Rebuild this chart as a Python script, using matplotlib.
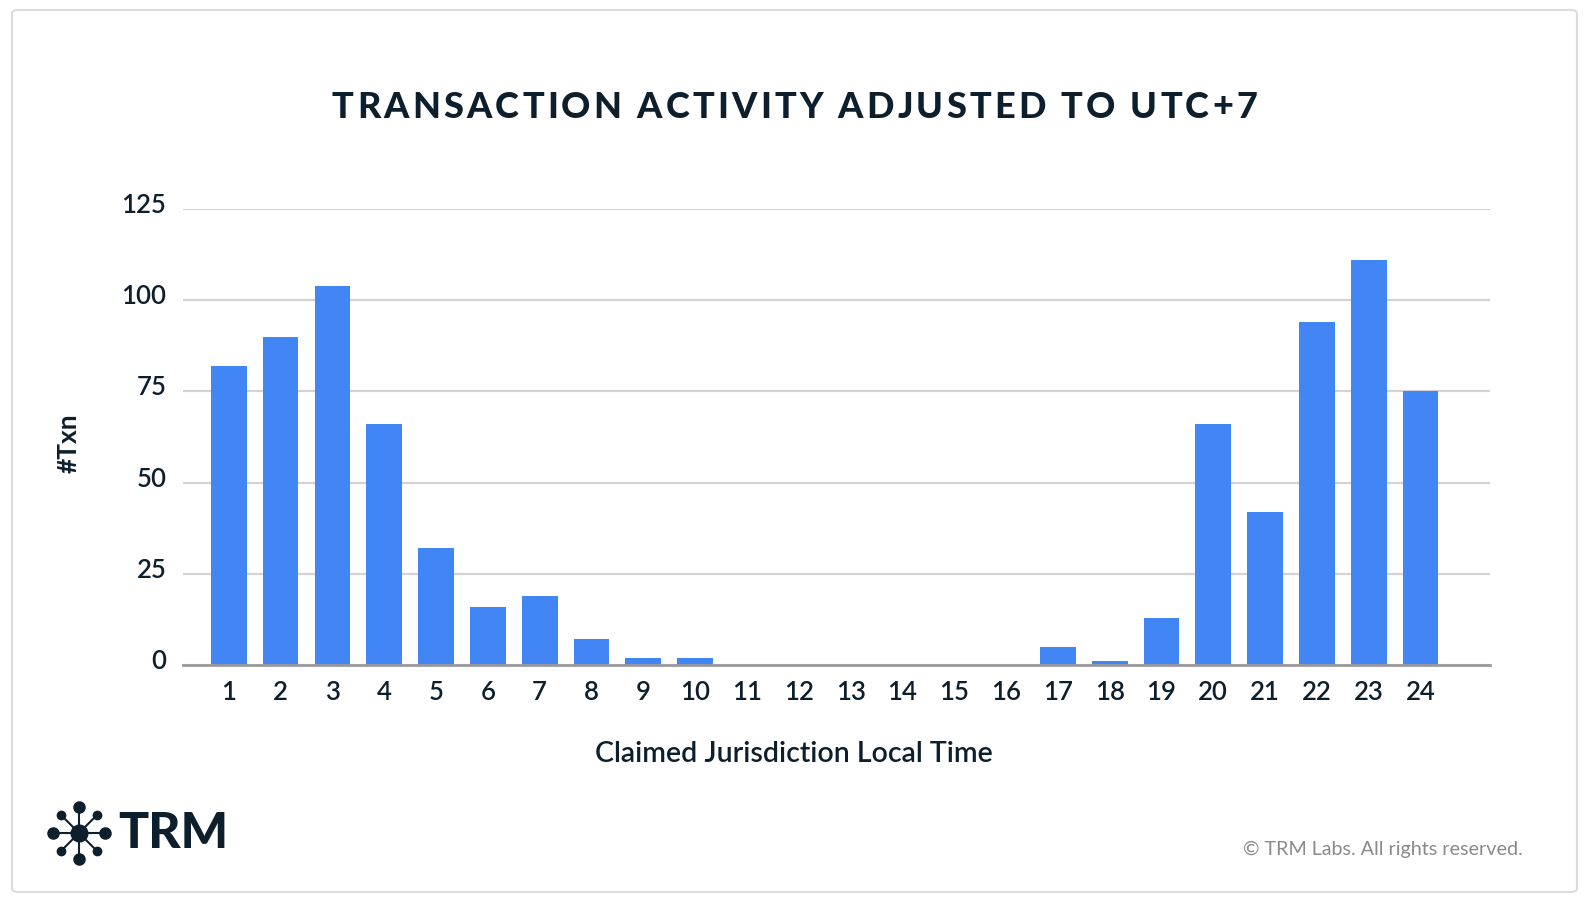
import numpy as np
import matplotlib
matplotlib.use("Agg")
import matplotlib.pyplot as plt
import matplotlib.transforms as mtransforms
from matplotlib.patches import FancyBboxPatch
from matplotlib.lines import Line2D

hours = list(range(1, 25))
txn_counts = [82, 90, 104, 66, 32, 16, 19, 7, 2, 2, 0, 0,
              0, 0, 0, 0, 5, 1, 13, 66, 42, 94, 111, 75]
y_ticks = [0, 25, 50, 75, 100, 125]

title = "TRANSACTION ACTIVITY ADJUSTED TO UTC+7"

navy = "#0d1e2c"
bar_blue = "#4285f4"
W, H = 1590, 904

plt.rcParams['font.family'] = ['Lato', 'DejaVu Sans']

fig = plt.figure(figsize=(W / 100, H / 100), dpi=100)


def tracked_text(s, x_left, x_right, y, **kw):
    # matplotlib has no letter spacing, so place characters one by one
    renderer = fig.canvas.get_renderer()

    def width(txt):
        t = fig.text(0, 0, txt, **kw)
        w = t.get_window_extent(renderer).width
        t.remove()
        return w

    wx = width("x")
    offsets = [width(s[:i] + "x") - wx for i in range(len(s))]
    natural = width(s)
    gap = (x_right - x_left - natural) / (len(s) - 1)
    for i, ch in enumerate(s):
        if ch == " ":
            continue
        fig.text((x_left + offsets[i] + i * gap) / W, y, ch, ha="left", va="center", **kw)


# card border
border = FancyBboxPatch((12 / W, 11 / H), (1577 - 12) / W, (893 - 11) / H,
                        boxstyle="round,pad=0,rounding_size=0.004",
                        transform=fig.transFigure, facecolor="none",
                        edgecolor="#dcdcdc", linewidth=1.5, zorder=0)
fig.patches.append(border)

ax = fig.add_axes([183 / W, 1 - 666 / H, (1490 - 183) / W, (666 - 210) / H])
ax.set_facecolor("none")
ax.bar(hours, txn_counts, width=0.69, color=bar_blue, zorder=3)

ax.set_xlim(0.116, 25.34)
ax.set_ylim(0, 125)
ax.set_xticks(hours)
ax.set_yticks(y_ticks)
ax.grid(axis="y", color="#d3d3d3", linewidth=1.6, zorder=0)
for s in ["top", "right", "left"]:
    ax.spines[s].set_visible(False)
ax.spines["bottom"].set_color("#9a9a9a")
ax.spines["bottom"].set_linewidth(2)
ax.spines["bottom"].set_zorder(4)
ax.tick_params(axis="both", length=0, labelsize=18.5, labelcolor=navy)
ax.tick_params(axis="x", pad=10)
ax.tick_params(axis="y", pad=12)
for lbl in ax.get_xticklabels() + ax.get_yticklabels():
    lbl.set_fontweight("semibold")
# y labels sit a little above their grid lines
shift = mtransforms.ScaledTranslation(0, 7 / 100, fig.dpi_scale_trans)
for lbl in ax.get_yticklabels():
    lbl.set_transform(lbl.get_transform() + shift)

ax.set_xlabel("Claimed Jurisdiction Local Time", fontsize=20.5, color=navy,
              fontweight="semibold")
ax.xaxis.set_label_coords(794 / W, 1 - 754 / H, transform=fig.transFigure)
ax.xaxis.label.set_va("center")
ax.set_ylabel("#Txn", fontsize=19, color=navy, fontweight="bold")
ax.yaxis.set_label_coords(69 / W, 1 - 443 / H, transform=fig.transFigure)
ax.yaxis.label.set_va("center")

tracked_text(title, 332, 1257, 1 - 107 / H, fontsize=26, fontweight="black", color=navy)

# logo
cx, cy = 79 / W, 1 - 834 / H
r = 26
for k in range(8):
    ang = np.pi / 2 + k * np.pi / 4
    dx = r * np.cos(ang) / W
    dy = r * np.sin(ang) / H
    fig.add_artist(Line2D([cx, cx + dx], [cy, cy + dy], transform=fig.transFigure,
                          color=navy, linewidth=1.5))
    big = k % 2 == 0
    fig.add_artist(Line2D([cx + dx], [cy + dy], transform=fig.transFigure, marker="o",
                          markersize=8 if big else 6, color=navy, linestyle="none"))
fig.add_artist(Line2D([cx], [cy], transform=fig.transFigure, marker="o",
                      markersize=12, color=navy, linestyle="none"))
fig.text(118 / W, 1 - 834 / H, "TRM", ha="left", va="center",
         fontsize=36, fontweight="black", color=navy)

fig.text(1523 / W, 1 - 849 / H, "\u00a9 TRM Labs. All rights reserved.",
         ha="right", va="center", fontsize=14.2, color="#8a8a8a")

fig.savefig("out.png", dpi=100, facecolor="white")
